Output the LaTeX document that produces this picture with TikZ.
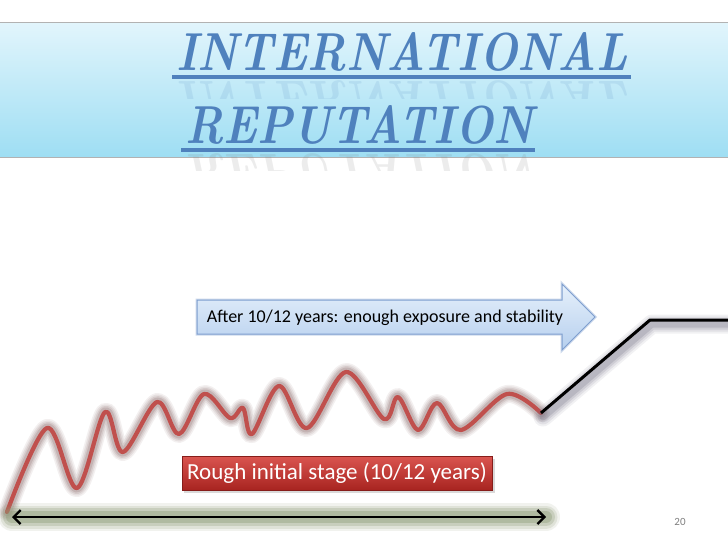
\documentclass[tikz,border=0pt]{standalone}
\usepackage{fontspec}
\usepackage{graphicx}
\setsansfont{Carlito}
\usetikzlibrary{arrows.meta,calc}
\definecolor{titleblue}{HTML}{4F81BD}
\definecolor{bandtop}{HTML}{E2F5FC}
\definecolor{bandbot}{HTML}{9EDEF3}
\definecolor{curvered}{HTML}{C0504D}
\definecolor{haloc}{HTML}{8E6E6E}
\definecolor{arrowtop}{HTML}{E6F0FB}
\definecolor{arrowbot}{HTML}{B6CFEE}
\definecolor{arrowedge}{HTML}{7F9FCF}
\definecolor{boxtop}{HTML}{DA5550}
\definecolor{boxbot}{HTML}{A82420}
\definecolor{glowgreen}{HTML}{8E9C78}
\definecolor{shadowc}{HTML}{6E6A80}
\tikzset{
  titletext/.style={anchor=base west, text=titleblue, inner sep=0pt},
  titleline/.style={titleblue, line width=3.5pt},
  halo/.style={line join=round, line cap=round},
  redline/.style={line width=4.2pt, curvered, line join=round, line cap=round},
  blackline/.style={line width=3pt, black, line join=round},
  labeltext/.style={font=\sffamily\fontsize{18}{21}\selectfont, text=black, inner sep=0pt},
}
\begin{document}
\begin{tikzpicture}[x=1pt,y=-1pt]
\useasboundingbox (0,0) rectangle (728,546);
\fill[white] (0,0) rectangle (728,546);
% header band
\shade[top color=bandtop, bottom color=bandbot] (-1,22) rectangle (729,157);
\draw[gray!60, line width=0.8pt] (-1,22) -- (729,22) (-1,157) -- (729,157);
% title
\node[titletext] (t1) at (176,70) {\resizebox{452pt}{38pt}{\bfseries\itshape INTERNATIONAL}};
\draw[titleline] (172,77) -- (631,77);
\begin{scope}
\clip (160,79) rectangle (640,98);
\node[anchor=north west, inner sep=0pt, text=titleblue, opacity=0.13] (r1) at (176,80) {\scalebox{1}[-1]{\resizebox{452pt}{38pt}{\bfseries\itshape INTERNATIONAL}}};
\end{scope}
\node[titletext] (t2) at (185,143) {\resizebox{348pt}{38pt}{\bfseries\itshape REPUTATION}};
\draw[titleline] (181,150) -- (535,150);
\begin{scope}
\clip (170,153) rectangle (545,170);
\node[anchor=north west, inner sep=0pt, text=gray, opacity=0.15] (r2) at (185,153) {\scalebox{1}[-1]{\resizebox{348pt}{38pt}{\bfseries\itshape REPUTATION}}};
\end{scope}
% block arrow
\path[draw=arrowedge!40, line width=3pt, line join=miter]
  (197,300) -- (562,300) -- (562,284) -- (595,317) -- (562,350) -- (562,334) -- (197,334) -- cycle;
\shade[top color=arrowtop, bottom color=arrowbot, draw=arrowedge, line width=1pt, line join=miter]
  (197,300) -- (562,300) -- (562,284) -- (595,317) -- (562,350) -- (562,334) -- (197,334) -- cycle;
\node[labeltext] (after) at (385,318) {After 10/12 years: enough exposure and stability};
% red rough curve
\def\roughpts{(7,512) (47,428) (77,488) (105,412) (123,452) (157,402) (179,434) (204,394) (230,418) (243,408) (252,434) (279,386) (307,428) (346,372) (384,419) (398,397) (418,430) (437,403) (461,430) (507,394) (541,413)}
\foreach \w/\o in {18/0.1, 15/0.13, 12/0.17, 9/0.24}{
  \draw[halo, haloc, line width=\w pt, opacity=\o] plot[smooth, tension=0.55] coordinates {\roughpts};
}
\draw[redline] plot[smooth, tension=0.55] coordinates {\roughpts};
% black stable line
\coordinate (s0) at (541,413);
\coordinate (s1) at (650,320);
\coordinate (s2) at (730,320);
\foreach \w/\o in {19/0.09, 15/0.12, 11/0.16, 7/0.22}{
  \draw[halo, shadowc, line width=\w pt, opacity=\o] ($(s0)+(2,4)$) -- ($(s1)+(2,4)$) -- ($(s2)+(2,4)$);
}
\draw[blackline] (s0) -- (s1) -- (s2);
% double arrow
\coordinate (a0) at (12,517);
\coordinate (a1) at (546,517);
\foreach \w/\o in {28/0.12, 23/0.18, 18/0.28, 12/0.4}{
  \draw[halo, glowgreen, line width=\w pt, opacity=\o] (a0) -- (a1);
}
\draw[line width=2.3pt, black, {Straight Barb[length=7pt,width=14pt]}-{Straight Barb[length=7pt,width=14pt]}] (a0) -- (a1);
% red label box
\fill[black, opacity=0.15] (184,459) rectangle (495,493);
\shade[top color=boxtop, bottom color=boxbot, draw=boxbot!80!black, line width=0.6pt] (182,456) rectangle (492,490);
\node[font=\sffamily\fontsize{23}{26}\selectfont, text=white, inner sep=0pt] (rough) at (337,473) {Rough initial stage (10/12 years)};
% page number
\node[font=\sffamily\fontsize{11}{13}\selectfont, text=gray] (pg) at (680,522) {20};
\end{tikzpicture}
\end{document}
